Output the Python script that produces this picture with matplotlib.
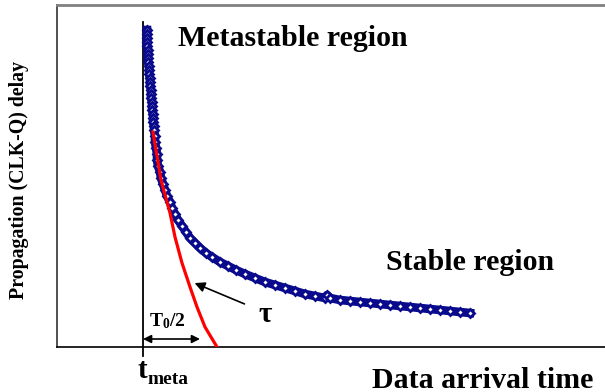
import matplotlib
matplotlib.use("Agg")
import matplotlib.pyplot as plt

plt.rcParams['font.family'] = ['Liberation Serif', 'DejaVu Serif']
plt.rcParams['font.weight'] = 'bold'
plt.rcParams['mathtext.fontset'] = 'custom'
plt.rcParams['mathtext.rm'] = 'Liberation Serif:bold'
plt.rcParams['mathtext.bf'] = 'Liberation Serif:bold'
plt.rcParams['mathtext.it'] = 'Liberation Serif:bold'

# measured delay vs data arrival time (arbitrary units, t_meta = 0)
arrival = [0.4, 0.4, 0.4, 0.4, 0.4, 0.5, 0.5, 0.5, 0.5, 0.6, 0.6, 0.6, 0.7, 0.7, 0.7,
           0.8, 0.8, 0.8, 0.9, 0.9, 0.9, 1.0, 1.0, 1.0, 1.1, 1.1, 1.2, 1.2, 1.3, 1.4,
           1.4, 1.5, 1.7, 1.8, 2.0, 2.2, 2.4, 2.7, 2.9, 3.2, 3.5, 3.9, 4.3, 4.7, 5.2,
           5.7, 6.3, 6.9, 7.7, 8.5, 9.3, 10.2, 11.2, 12.2, 13.2, 14.2, 15.2, 16.2,
           17.2, 18.2, 18.4, 18.7, 19.7, 20.7, 21.7, 22.7, 23.7, 24.7, 25.7, 26.7,
           27.7, 28.7, 29.7, 30.7, 31.7, 32.7]
delay = [31.7, 31.3, 30.9, 30.5, 30.1, 29.7, 29.3, 28.9, 28.5, 28.1, 27.7, 27.3, 26.9,
         26.5, 26.1, 25.7, 25.3, 24.9, 24.5, 24.1, 23.7, 23.3, 22.9, 22.5, 22.1, 21.7,
         21.1, 20.5, 19.9, 19.3, 18.7, 18.1, 17.5, 16.9, 16.3, 15.7, 15.1, 14.5, 13.9,
         13.3, 12.7, 12.1, 11.5, 10.9, 10.4, 9.9, 9.4, 9.0, 8.5, 8.1, 7.7, 7.3, 6.9,
         6.5, 6.2, 5.9, 5.6, 5.3, 5.1, 4.9, 5.2, 4.9, 4.7, 4.6, 4.5, 4.4, 4.3, 4.2,
         4.1, 4.0, 3.9, 3.8, 3.7, 3.6, 3.5, 3.4]

# exponential fit in the metastable region
fit_x = [1.0, 1.8, 2.7, 3.2, 3.9, 4.7, 5.4, 6.2, 7.4]
fit_y = [21.5, 16.7, 13.4, 11.0, 8.4, 6.0, 4.0, 2.0, 0.0]

t_meta = 0.0
half_T0 = 5.7

fig = plt.figure(figsize=(6.05, 3.92), dpi=100)
ax = fig.add_axes([57 / 605, 45 / 392, 548 / 605, 342 / 392])
ax.set_xlim(-8.6, 46.2)
ax.set_ylim(0, 34.2)
ax.set_xticks([])
ax.set_yticks([])
ax.spines['right'].set_visible(False)
ax.spines['top'].set_color('#808080')
ax.spines['top'].set_linewidth(2)
ax.spines['left'].set_color('#333333')
ax.spines['left'].set_linewidth(1.2)
ax.spines['bottom'].set_linewidth(1.2)

ax.plot([t_meta, t_meta], [-0.9, 32.5], color='black', lw=1.3, clip_on=False)

ax.plot(arrival, delay, color='#0a0a8c', lw=6.2, marker='D', markersize=4.5,
        markerfacecolor='white', markeredgecolor='#0a0a8c', markeredgewidth=2,
        zorder=3)
ax.plot(fit_x, fit_y, color='#ff0000', lw=2.3, zorder=4)

ax.annotate('', xy=(4.9, 6.5), xytext=(10.4, 4.2),
            arrowprops=dict(arrowstyle='-|>', color='black', lw=1.2,
                            mutation_scale=15))
ax.text(12.2, 3.3, 'τ', fontsize=21, ha='center', va='center')

ax.annotate('', xy=(t_meta, 0.8), xytext=(half_T0, 0.8),
            arrowprops=dict(arrowstyle='<|-|>', color='black', lw=1.2,
                            mutation_scale=12, shrinkA=0, shrinkB=0))
ax.text(2.4, 2.6, r'$\mathrm{T_0/2}$', fontsize=14, ha='center', va='center')

ax.text(-0.1, -2.4, 't', fontsize=21, ha='center', va='center', clip_on=False)
ax.text(0.45, -3.3, 'meta', fontsize=14, ha='left', va='center', clip_on=False)

ax.text(15.0, 30.9, 'Metastable region', fontsize=21.5, ha='center', va='center')
ax.text(32.7, 8.4, 'Stable region', fontsize=21.5, ha='center', va='center')
ax.text(34.0, -3.3, 'Data arrival time', fontsize=21.5, ha='center', va='center',
        clip_on=False)

fig.text(19 / 605, 1 - 180 / 392, 'Propagation (CLK-Q) delay', fontsize=14.3,
         rotation=90, ha='center', va='center')

fig.savefig('out.png', dpi=100)
